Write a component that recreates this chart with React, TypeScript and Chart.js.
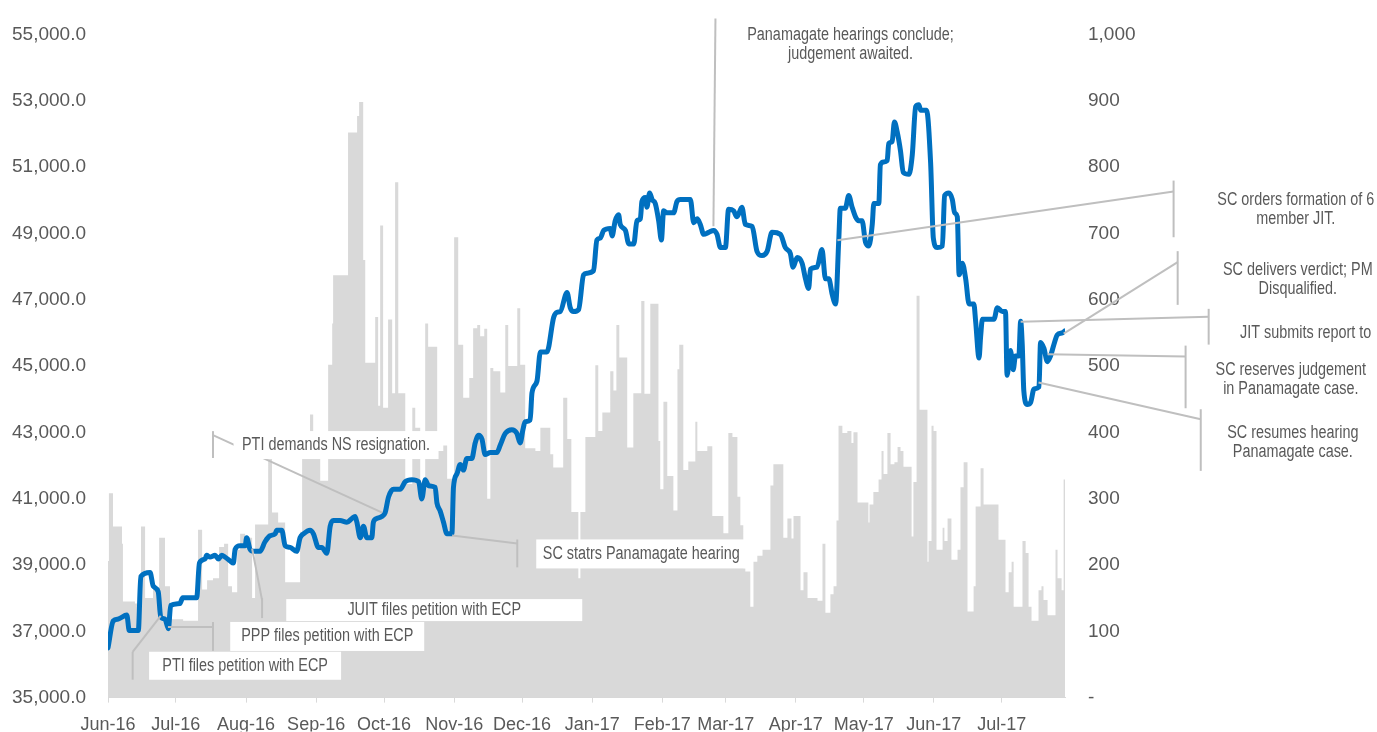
import React, { useEffect, useRef } from 'react';
import { Chart, registerables } from 'chart.js';

Chart.register(...registerables);

// x axis: days counted from 1 Jun 2016
const monthDays = [0, 30, 61, 92, 122, 153, 183, 214, 245, 273, 304, 334, 365, 395];
const monthLabels = ['Jun-16', 'Jul-16', 'Aug-16', 'Sep-16', 'Oct-16', 'Nov-16', 'Dec-16', 'Jan-17', 'Feb-17', 'Mar-17', 'Apr-17', 'May-17', 'Jun-17', 'Jul-17'];

// KSE-100 index [day, value]
const kseIndex: [number, number][] = [
  [0, 36500], [2.3, 37310], [4.6, 37370], [8.3, 37490], [9.4, 37020], [13.4, 37020], [14.5, 38650], [18.6, 38770],
  [20, 38360], [22.2, 38190], [23.3, 37430], [25.2, 37370], [26.7, 37080], [27.7, 37780], [31.8, 37840], [33, 38010],
  [39.2, 38010], [40.4, 39060], [42.9, 39180], [43.6, 39290], [45.1, 39240], [47.3, 39290], [48.8, 39180], [50.3, 39290],
  [51.7, 39240], [54, 39120], [55.4, 39060], [56.2, 39470], [58.4, 39580], [60.6, 39580], [61.3, 39820], [62.8, 39470],
  [64.3, 39410], [67.2, 39410], [69.4, 39700], [71.6, 39880], [73.9, 39940], [74.6, 40050], [76.8, 40050], [78.3, 39580],
  [80.5, 39530], [83.4, 39410], [84.9, 39820], [86.4, 39940], [89.3, 40050], [90.8, 39940], [93, 39530], [94.5, 39530],
  [96.7, 39350], [98.2, 40170], [99.6, 40340], [102.6, 40340], [105.6, 40290], [107.8, 40400], [109.2, 40460], [110, 40290],
  [111.5, 39820], [112.9, 40170], [114.4, 39820], [116.6, 39820], [117.3, 40290], [118.8, 40400], [121, 40460], [122.5, 40580],
  [124, 41050], [126.2, 41280], [129.1, 41280], [131.4, 41510], [134.3, 41570], [137.3, 41510], [138.7, 40990], [140.2, 41570],
  [141.7, 41390], [144.6, 41340], [145.4, 40870], [146.8, 40630], [148.3, 40290], [149.8, 39940], [152, 39940], [152.7, 41340],
  [154.2, 41740], [155.7, 42030], [157.1, 41860], [158.6, 42210], [160.8, 42210], [162.3, 42680], [163.8, 42910], [165.3, 42790],
  [166.7, 42330], [169, 42390], [171.9, 42390], [173.4, 42620], [175.6, 42970], [178.5, 43080], [180.7, 42970], [182.2, 42680],
  [183.4, 43080], [184.4, 43320], [186.6, 43370], [187.4, 44190], [189.6, 44540], [191.1, 45420], [194, 45420], [197, 46470],
  [198.4, 46620], [199.9, 46640], [202.9, 47220], [204.3, 46760], [205.8, 46640], [208, 46700], [210.2, 47750], [211.7, 47800],
  [214.6, 47870], [216.1, 48800], [217.6, 48860], [219.1, 49090], [222, 49150], [222.8, 48920], [224.2, 49380], [225.7, 49560],
  [226.4, 49270], [228.7, 49090], [230.2, 48680], [232.4, 48680], [233.8, 49380], [235.3, 49440], [236, 49960], [237.5, 50080],
  [238.2, 49790], [239.4, 50220], [240.5, 50020], [241.9, 49900], [243.4, 49380], [244.6, 48800], [245.6, 49680], [247.1, 49620],
  [250, 49620], [251.5, 49960], [253, 50020], [257.4, 50020], [258.9, 49320], [260.4, 49440], [261.8, 49270], [263.3, 48970],
  [265.5, 49030], [267.7, 49090], [269.2, 48970], [270.7, 48570], [272.9, 48570], [274.3, 49730], [276.5, 49680], [278, 49500],
  [280.2, 49790], [281.7, 49270], [284.7, 49210], [286.9, 48450], [289.1, 48330], [291.3, 48450], [293.5, 49030], [297.2, 48970],
  [299.4, 48570], [301.6, 48390], [302.8, 47980], [304.6, 48270], [306.8, 48100], [308.3, 47630], [309.7, 47340], [310.5, 47920],
  [313.4, 47980], [315.6, 48510], [317.1, 47630], [318.6, 47630], [320.1, 47160], [321.6, 46870], [323, 48800], [323.7, 49760],
  [325.9, 49760], [327.4, 50140], [328.9, 49790], [330.4, 49500], [331.8, 49380], [333.3, 49380], [334.8, 48740], [336.3, 48620],
  [337.8, 49270], [338.5, 49900], [340.7, 49900], [341.4, 51070], [342.9, 51150], [344.4, 51190], [345.1, 51710], [346.6, 51770],
  [347.6, 52360], [348.8, 52070], [350.3, 51480], [351.5, 50840], [354, 50780], [355.5, 51370], [357, 52820], [358.4, 52880],
  [359.2, 52710], [361.8, 52710], [363.6, 51130], [364.8, 48860], [366.5, 48570], [368.8, 48620], [369.8, 50140], [371.7, 50220],
  [373.2, 50020], [374.2, 49620], [375.4, 49500], [376.2, 47750], [377.6, 48100], [379.1, 47630], [380.6, 46870], [382.7, 46870],
  [383.5, 46350], [385, 45240], [385.7, 45880], [386.5, 46410], [391.6, 46410], [393.1, 46760], [395.3, 46640], [396.7, 46640],
  [397.4, 44720], [398.9, 45470], [400.1, 44890], [401.1, 45300], [402.6, 45300], [403.4, 46350], [404.1, 45650], [404.8, 44250],
  [406.3, 43840], [407.8, 43900], [409.3, 44310], [411.5, 44370], [412.2, 45710], [413.7, 45530], [415.2, 45130], [416.6, 45300],
  [418.1, 45650], [419.6, 45940], [421.8, 46000], [423, 46060],
];

// Traded volume (mn shares) [start day of step, value]
const volume: [number, number][] = [
  [0, 206], [0.4, 308], [2.2, 258], [6.2, 232], [6.6, 145], [11.9, 142], [14.6, 258], [16.4, 150], [19.9, 165], [22.6, 241],
  [25.2, 168], [27.4, 142], [28.3, 118], [33.2, 116], [39.8, 253], [41.6, 163], [43.8, 177], [46.4, 180], [49.1, 227], [51.3, 232],
  [53.1, 168], [54.8, 159], [57.1, 223], [58.4, 247], [60.6, 241], [63.7, 150], [65, 261], [70.8, 360], [72.5, 279], [75.2, 264],
  [78.3, 174], [84.9, 250], [85.8, 360], [89.3, 427], [90.7, 360], [93.8, 327], [97.3, 502], [99.1, 564], [99.5, 637], [106.1, 852],
  [110.1, 877], [111, 898], [112.8, 660], [113.7, 505], [118.1, 574], [119.4, 440], [120.3, 712], [121.6, 437], [123.8, 570], [125.6, 459],
  [126.9, 777], [128.3, 459], [131.4, 322], [134.5, 437], [135.8, 407], [138, 322], [140.2, 564], [141.5, 529], [145.5, 372], [148.2, 380],
  [149.9, 330], [153, 694], [154.8, 532], [157, 452], [159.7, 482], [161.4, 557], [163.2, 562], [164.5, 545], [166.3, 556], [167.6, 300],
  [169, 497], [170.3, 492], [173.4, 460], [175.6, 562], [176.9, 500], [180.9, 587], [182.2, 502], [184.4, 376], [188.9, 372], [191.1, 407],
  [195.5, 367], [196.8, 347], [201.2, 452], [203, 390], [204.8, 280], [207.9, 180], [208.8, 280], [211, 393], [215.4, 501], [216.7, 402],
  [218.5, 430], [222, 492], [223.4, 463], [224.7, 562], [226, 513], [229.5, 377], [232.2, 459], [235.7, 598], [237.1, 458], [239.7, 594],
  [243.3, 387], [244.1, 314], [245.5, 446], [247.2, 334], [249.9, 282], [251.7, 495], [252.5, 532], [254.3, 343], [256.5, 356], [259.6, 416],
  [260.5, 372], [264.9, 379], [267.1, 274], [272, 248], [274.2, 399], [276, 393], [278.2, 303], [279.5, 260], [280.8, 195], [281.7, 190],
  [283.9, 137], [285.3, 205], [287, 214], [289.3, 223], [292.8, 320], [294.1, 352], [298.5, 241], [300.3, 270], [302.1, 240], [303, 274],
  [306.1, 162], [307.4, 189], [309.2, 150], [313.6, 146], [315.8, 232], [317.1, 128], [319.3, 156], [320.7, 168], [322, 267], [322.9, 410],
  [324.6, 399], [326.8, 402], [328.6, 384], [329.5, 400], [331.3, 294], [336.1, 264], [336.6, 291], [338.3, 310], [340.6, 329], [341.9, 372],
  [342.8, 337], [344.5, 399], [345.9, 352], [347.6, 355], [349, 378], [350.3, 372], [351.6, 348], [355.2, 243], [356, 325], [357.4, 606],
  [358.7, 434], [362.2, 205], [362.7, 236], [364, 410], [364.9, 402], [366.2, 223], [368.9, 256], [369.7, 236], [371.1, 270], [372.8, 208],
  [375.5, 223], [376.8, 317], [378.2, 355], [379.9, 130], [382.6, 168], [383.5, 288], [385.7, 346], [387, 291], [393.6, 238], [396.7, 159],
  [398.1, 189], [399.4, 205], [400.3, 137], [404.2, 236], [405.6, 218], [406.9, 137], [408.2, 116], [411.3, 162], [412.6, 168], [413.5, 147],
  [415.3, 124], [418.8, 223], [419.7, 180], [421.5, 162], [422.4, 329], [423.7, 329],
];

// Event call-outs, anchored in data units (day, index level)
type Note = { lines: string[]; at: [number, number]; path: [number, number][]; tick?: [number, number, number]; boxW?: number; boxH?: number };
const notes: Note[] = [
  { lines: ['PTI demands NS resignation.'], at: [100.8, 42616], boxW: 205, boxH: 28, path: [[121.2, 40577], [46.4, 42916]], tick: [46.4, 43036, 42226] },
  { lines: ['SC statrs Panamagate hearing'], at: [235.7, 39333], boxW: 210, boxH: 29, path: [[152.1, 39888], [180.9, 39648]], tick: [180.9, 39768, 38928] },
  { lines: ['JUIT files petition with ECP'], at: [144.2, 37639], boxW: 296, boxH: 22, path: [[63.7, 39498], [68.1, 37939]], tick: [68.1, 37999, 37399] },
  { lines: ['PPP files petition with ECP'], at: [96.9, 36844], boxW: 194, boxH: 29, path: [[26.5, 37129], [46.4, 37129]], tick: [46.4, 37279, 36409] },
  { lines: ['PTI files petition with ECP'], at: [60.6, 35960], boxW: 192, boxH: 28, path: [[23.3, 37462], [10.9, 36379]], tick: [10.9, 36379, 35540] },
  { lines: ['Panamagate hearings conclude;', 'judgement awaited.'], at: [328.2, 54700], path: [[267.6, 49213], [268.5, 55480]] },
  { lines: ['SC orders formation of 6', 'member JIT.'], at: [525, 49708], path: [[322.4, 48793], [471.0, 50262]], tick: [471.0, 50592, 48883] },
  { lines: ['SC delivers verdict; PM', 'Disqualified.'], at: [525.9, 47609], path: [[422.4, 45975], [472.8, 48134]], tick: [472.8, 48463, 46844] },
  { lines: ['JIT submits report to'], at: [529.4, 46004], path: [[403.4, 46334], [486.5, 46484]], tick: [486.5, 46724, 45645] },
  { lines: ['SC reserves judgement', 'in Panamagate case.'], at: [522.8, 44595], path: [[415.3, 45354], [476.3, 45285]], tick: [476.3, 45615, 43726] },
  { lines: ['SC resumes hearing', 'Panamagate case.'], at: [523.7, 42691], path: [[411.3, 44505], [483.0, 43396]], tick: [483.0, 43696, 41837] },
];

const TEXT = '#595959';
const FONT = 'Liberation Sans';

const notesPlugin = {
  id: 'notes',
  afterDraw(chart: any) {
    const { ctx } = chart;
    const xs = chart.scales.x;
    const ys = chart.scales.y;
    const px = (d: number) => xs.getPixelForValue(d);
    const py = (v: number) => ys.getPixelForValue(v);
    ctx.save();
    ctx.strokeStyle = '#BFBFBF';
    ctx.lineWidth = 2;
    for (const n of notes) {
      ctx.beginPath();
      n.path.forEach(([d, v], i) => (i ? ctx.lineTo(px(d), py(v)) : ctx.moveTo(px(d), py(v))));
      ctx.stroke();
      if (n.tick) {
        ctx.beginPath();
        ctx.moveTo(px(n.tick[0]), py(n.tick[1]));
        ctx.lineTo(px(n.tick[0]), py(n.tick[2]));
        ctx.stroke();
      }
    }
    ctx.fillStyle = '#FFFFFF';
    for (const n of notes) {
      if (!n.boxW || !n.boxH) continue;
      const cx = px(n.at[0]);
      const cy = py(n.at[1]);
      ctx.fillRect(cx - n.boxW / 2, cy - n.boxH / 2, n.boxW, n.boxH);
    }
    ctx.fillStyle = TEXT;
    ctx.font = `18px "${FONT}"`;
    ctx.textAlign = 'center';
    ctx.textBaseline = 'middle';
    for (const n of notes) {
      const cx = px(n.at[0]);
      const cy = py(n.at[1]);
      const k = n.lines.length;
      n.lines.forEach((t, i) => {
        ctx.save();
        ctx.translate(cx, cy + (i - (k - 1) / 2) * 19);
        ctx.scale(0.8, 1);
        ctx.fillText(t, 0, 0);
        ctx.restore();
      });
    }
    ctx.restore();
  },
};

export default function App() {
  const ref = useRef<HTMLCanvasElement | null>(null);
  useEffect(() => {
    document.body.style.margin = '0';
    const canvas = ref.current;
    if (!canvas) return;
    const chart = new Chart(canvas, {
      type: 'line',
      data: {
        datasets: [
          {
            label: 'KSE-100',
            data: kseIndex.map(([x, y]) => ({ x, y })),
            yAxisID: 'y',
            borderColor: '#0070C0',
            borderWidth: 5,
            pointRadius: 0,
            cubicInterpolationMode: 'monotone',
            borderJoinStyle: 'round',
            borderCapStyle: 'round',
            fill: false,
            order: 0,
          },
          {
            label: 'Volume',
            data: volume.map(([x, y]) => ({ x, y })),
            yAxisID: 'y1',
            stepped: 'before',
            fill: 'origin',
            backgroundColor: '#D9D9D9',
            borderColor: 'rgba(0,0,0,0)',
            borderWidth: 0,
            pointRadius: 0,
            order: 1,
          },
        ] as any,
      },
      options: {
        responsive: false,
        animation: false,
        layout: { padding: { top: 29, left: 0, right: 0, bottom: 0 } },
        plugins: { legend: { display: false }, tooltip: { enabled: false } },
        scales: {
          x: {
            type: 'linear',
            min: 0,
            max: 423,
            afterBuildTicks: (s: any) => {
              s.ticks = monthDays.map((v) => ({ value: v }));
            },
            afterFit: (s: any) => {
              s.height = 34;
            },
            ticks: {
              autoSkip: false,
              maxRotation: 0,
              padding: 12,
              color: TEXT,
              font: { family: FONT, size: 18 },
              callback: (v: any) => monthLabels[monthDays.indexOf(Number(v))] ?? '',
            },
            grid: { drawOnChartArea: false, drawTicks: true, tickLength: 5, color: '#D9D9D9' },
            border: { display: true, color: '#D9D9D9' },
          },
          y: {
            position: 'left',
            min: 35000,
            max: 55000,
            afterFit: (s: any) => {
              s.width = 108;
            },
            ticks: {
              stepSize: 2000,
              padding: 22,
              color: TEXT,
              font: { family: FONT, size: 19 },
              callback: (v: any) => Number(v).toLocaleString('en-US', { minimumFractionDigits: 1, maximumFractionDigits: 1 }),
            },
            grid: { display: false, drawTicks: false },
            border: { display: false },
          },
          y1: {
            position: 'right',
            min: 0,
            max: 1000,
            afterFit: (s: any) => {
              s.width = 312;
            },
            ticks: {
              stepSize: 100,
              padding: 23,
              color: TEXT,
              font: { family: FONT, size: 19 },
              callback: (v: any) => (Number(v) === 0 ? '-' : Number(v).toLocaleString('en-US')),
            },
            grid: { display: false, drawTicks: false },
            border: { display: false },
          },
        },
      } as any,
      plugins: [notesPlugin],
    });
    return () => chart.destroy();
  }, []);
  return <canvas ref={ref} width={1377} height={732} style={{ display: 'block' }} />;
}
